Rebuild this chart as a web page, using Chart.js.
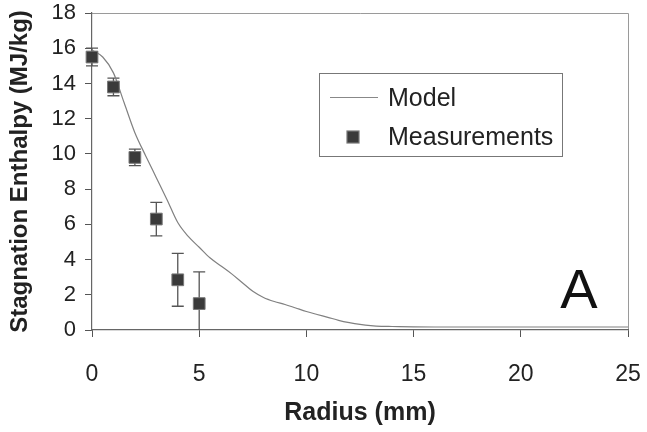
<!DOCTYPE html>
<html>
<head>
<meta charset="utf-8">
<script src="https://cdn.jsdelivr.net/npm/chart.js@4.4.1/dist/chart.umd.min.js"></script>
<style>
html,body{margin:0;padding:0;background:#fff;}
#wrap{width:647px;height:432px;position:relative;}
</style>
</head>
<body>
<div id="wrap"><canvas id="c" width="647" height="432"></canvas></div>
<script>
// ---- data ----
const modelRadius   = [0, 0.5, 1, 1.5, 2, 2.5, 3, 3.5, 4, 4.5, 5, 5.5, 6, 6.5, 7, 7.5, 8, 8.5, 9, 9.5, 10, 10.5, 11, 11.5, 12, 12.5, 13, 13.5, 14, 15, 16, 17, 18, 19, 20, 21, 22, 23, 24, 25];
const modelEnthalpy = [15.9, 15.5, 14.6, 12.9, 11.2, 9.9, 8.65, 7.4, 6.1, 5.3, 4.7, 4.1, 3.65, 3.2, 2.7, 2.2, 1.85, 1.62, 1.45, 1.25, 1.05, 0.88, 0.72, 0.55, 0.42, 0.32, 0.25, 0.21, 0.2, 0.18, 0.17, 0.17, 0.17, 0.17, 0.17, 0.17, 0.17, 0.17, 0.17, 0.17];
const measRadius    = [0, 1, 2, 3, 4, 5];
const measEnthalpy  = [15.5, 13.8, 9.8, 6.3, 2.85, 1.5];
const measError     = [0.5, 0.5, 0.47, 0.95, 1.5, 1.8];
const seriesLabels  = ['Model', 'Measurements'];
const xTitle = 'Radius (mm)';
const yTitle = 'Stagnation Enthalpy (MJ/kg)';
const panelLabel = 'A';

const FONT = "'Liberation Sans', Arial, Helvetica, sans-serif";

const frame = {
  id: 'frame',
  beforeDraw(chart) {
    const {ctx, chartArea: a} = chart;
    ctx.save();
    ctx.strokeStyle = '#9a9a9a';
    ctx.lineWidth = 1;
    ctx.beginPath();
    ctx.moveTo(a.left, a.top + 0.5);
    ctx.lineTo(a.right + 0.5, a.top + 0.5);
    ctx.lineTo(a.right + 0.5, a.bottom);
    ctx.stroke();
    ctx.restore();
  }
};

const errorBars = {
  id: 'errorBars',
  beforeDatasetsDraw(chart) {
    const {ctx, chartArea: a, scales: {x, y}} = chart;
    ctx.save();
    ctx.beginPath();
    ctx.rect(a.left - 10, a.top, a.right - a.left + 20, a.bottom - a.top);
    ctx.clip();
    ctx.strokeStyle = '#555';
    ctx.lineWidth = 1.3;
    const cap = 6;
    measRadius.forEach((r, i) => {
      const px = x.getPixelForValue(r);
      const yt = y.getPixelForValue(measEnthalpy[i] + measError[i]);
      const yb = y.getPixelForValue(measEnthalpy[i] - measError[i]);
      ctx.beginPath();
      ctx.moveTo(px, yt); ctx.lineTo(px, yb);
      ctx.moveTo(px - cap, yt); ctx.lineTo(px + cap, yt);
      ctx.moveTo(px - cap, yb); ctx.lineTo(px + cap, yb);
      ctx.stroke();
    });
    ctx.restore();
  }
};

const legendAndLabel = {
  id: 'legendAndLabel',
  afterDraw(chart) {
    const {ctx} = chart;
    ctx.save();
    const bx = 319.5, by = 73.5, bw = 243, bh = 83;
    ctx.fillStyle = '#fff';
    ctx.fillRect(bx, by, bw, bh);
    ctx.strokeStyle = '#777';
    ctx.lineWidth = 1;
    ctx.strokeRect(bx, by, bw, bh);
    ctx.strokeStyle = '#888';
    ctx.lineWidth = 1.2;
    ctx.beginPath();
    ctx.moveTo(330, 97.5); ctx.lineTo(378, 97.5);
    ctx.stroke();
    ctx.font = '25px ' + FONT;
    ctx.fillStyle = '#222';
    ctx.textBaseline = 'middle';
    ctx.textAlign = 'left';
    ctx.fillText(seriesLabels[0], 388, 99);
    ctx.fillStyle = '#3a3a3a';
    ctx.fillRect(347, 131, 12, 12);
    ctx.strokeStyle = '#777';
    ctx.strokeRect(347, 131, 12, 12);
    ctx.fillStyle = '#222';
    ctx.fillText(seriesLabels[1], 388, 138);
    ctx.font = '56px ' + FONT;
    ctx.textAlign = 'center';
    ctx.textBaseline = 'alphabetic';
    ctx.fillStyle = '#111';
    ctx.fillText(panelLabel, 579, 308);
    ctx.restore();
  }
};

new Chart(document.getElementById('c'), {
  type: 'scatter',
  data: {
    datasets: [
      {
        label: seriesLabels[0],
        type: 'line',
        data: modelRadius.map((r, i) => ({x: r, y: modelEnthalpy[i]})),
        borderColor: '#808080',
        borderWidth: 1.2,
        pointRadius: 0,
        cubicInterpolationMode: 'monotone',
        fill: false,
        order: 2
      },
      {
        label: seriesLabels[1],
        data: measRadius.map((r, i) => ({x: r, y: measEnthalpy[i]})),
        pointStyle: 'rect',
        pointRadius: 8.3,
        backgroundColor: '#3a3a3a',
        borderColor: '#777',
        borderWidth: 1,
        showLine: false,
        order: 1
      }
    ]
  },
  options: {
    responsive: false,
    animation: false,
    devicePixelRatio: 1,
    clip: false,
    layout: {padding: {top: 13, right: 19, left: 0, bottom: 0}},
    plugins: {legend: {display: false}, tooltip: {enabled: false}},
    scales: {
      x: {
        type: 'linear', min: 0, max: 25,
        ticks: {stepSize: 5, padding: 24, color: '#222', font: {family: FONT, size: 23}},
        grid: {display: true, drawOnChartArea: false, drawTicks: true, tickLength: 7, color: '#555'},
        border: {display: true, color: '#666', width: 1.2},
        title: {display: true, text: xTitle, color: '#222', font: {family: FONT, size: 25, weight: 'bold'}, padding: {top: 0, bottom: 4}},
        afterFit(s) { s.height = 102; s.paddingLeft = 0; s.paddingRight = 0; }
      },
      y: {
        type: 'linear', min: 0, max: 18,
        ticks: {stepSize: 2, padding: 9, color: '#222', font: {family: FONT, size: 22}},
        grid: {display: true, drawOnChartArea: false, drawTicks: true, tickLength: 7, color: '#555'},
        border: {display: true, color: '#666', width: 1.2},
        title: {display: true, text: yTitle, color: '#222', font: {family: FONT, size: 24, weight: 'bold'}, padding: {top: 6, bottom: 0}},
        afterFit(s) { s.width = 92; s.paddingTop = 0; s.paddingBottom = 0; }
      }
    }
  },
  plugins: [frame, errorBars, legendAndLabel]
});
</script>
</body>
</html>
